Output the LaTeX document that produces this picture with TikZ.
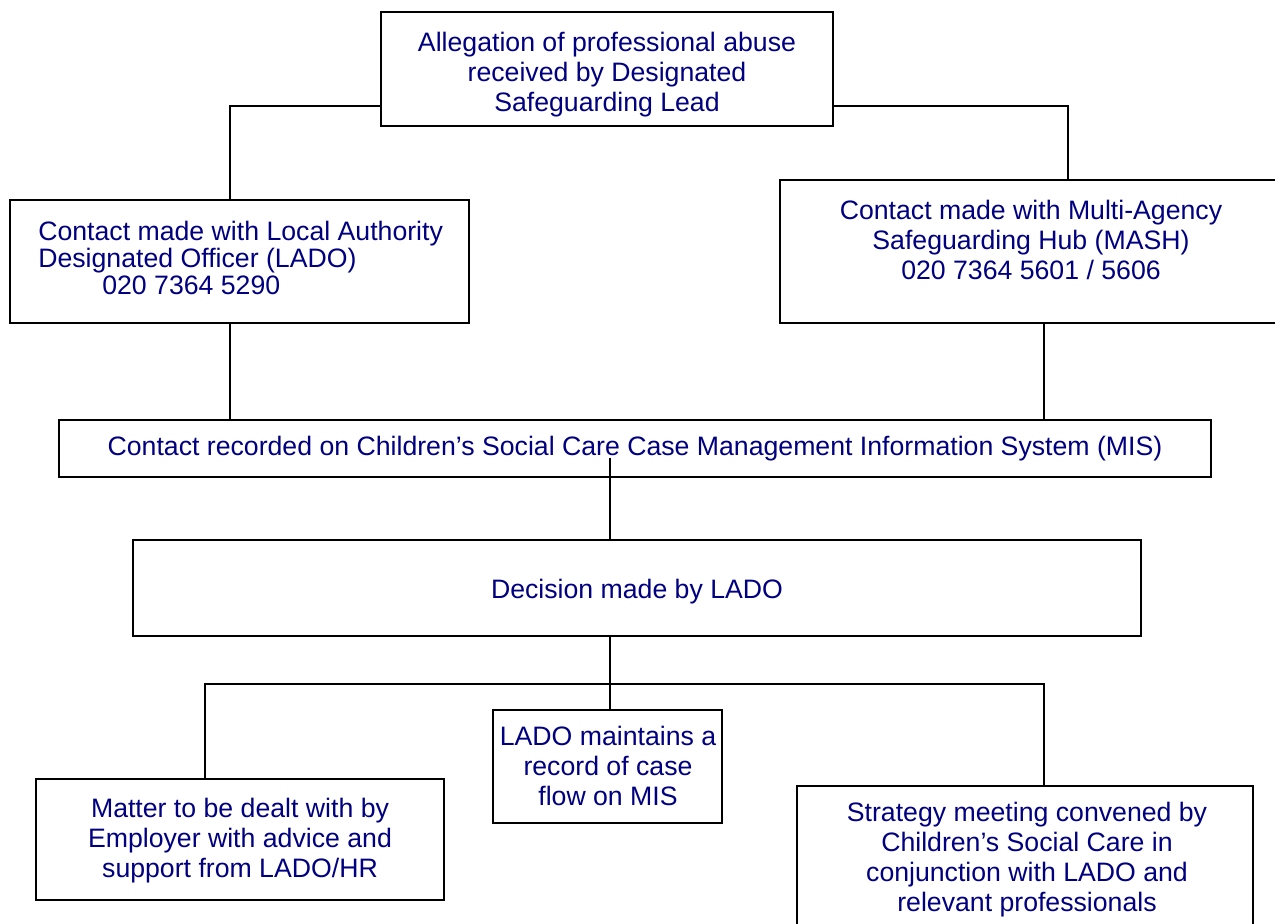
\documentclass[tikz,border=0pt]{standalone}
\usepackage{fontspec}
\setmainfont{Liberation Sans}
\definecolor{txtblue}{RGB}{0,0,128}
\tikzset{
  boxst/.style={draw=black, line width=1.2pt, rectangle, inner sep=0pt},
  txt/.style={text=txtblue, font=\fontsize{16pt}{18pt}\selectfont, align=center, inner sep=0pt},
  conn/.style={draw=black, line width=1.2pt}
}
\begin{document}
\begin{tikzpicture}[x=0.6pt, y=-0.6pt]
\clip (0,0) rectangle (1275,924);
\fill[white] (0,0) rectangle (1275,924);
% boxes
\node[boxst, minimum width=452*0.6pt, minimum height=114*0.6pt] (top) at (607,69) {};
\node[boxst, minimum width=459*0.6pt, minimum height=123*0.6pt] (lado) at (239.5,261.5) {};
\node[boxst, minimum width=505*0.6pt, minimum height=143*0.6pt] (mash) at (1032.5,251.5) {};
\node[boxst, minimum width=1152*0.6pt, minimum height=57*0.6pt] (mis) at (635,448.5) {};
\node[boxst, minimum width=1008*0.6pt, minimum height=96*0.6pt] (dec) at (637,588) {};
\node[boxst, minimum width=408*0.6pt, minimum height=121*0.6pt] (bl) at (240,839.5) {};
\node[boxst, minimum width=229*0.6pt, minimum height=113*0.6pt] (bm) at (607.5,766.5) {};
\node[boxst, minimum width=456*0.6pt, minimum height=154*0.6pt] (br) at (1025,863) {};
% texts
\node[txt] (toptext) at (607,75) {Allegation of professional abuse\\received by Designated\\Safeguarding Lead};
\node[txt, align=left, anchor=west, font=\fontsize{16pt}{16.2pt}\selectfont] (ladotext) at (38,258) {Contact made with Local Authority\\Designated Officer (LADO)\\\hspace*{38.4pt}020 7364 5290};
\node[txt] (mashtext) at (1031,240) {Contact made with Multi-Agency\\Safeguarding Hub (MASH)\\020 7364 5601 / 5606};
\node[txt] (mistext) at (635,449) {Contact recorded on Children’s Social Care Case Management Information System (MIS)};
\node[txt] (dectext) at (637,592) {Decision made by LADO};
\node[txt] (bltext) at (240,841) {Matter to be dealt with by\\Employer with advice and\\support from LADO/HR};
\node[txt] (bmtext) at (608,766) {LADO maintains a\\record of case\\flow on MIS};
\node[txt] (brtext) at (1027,860) {Strategy meeting convened by\\Children’s Social Care in\\conjunction with LADO and\\relevant professionals};
% junction coordinates
\coordinate (j1) at (230,106);
\coordinate (j2) at (1068,106);
\coordinate (j4) at (1044,323);
\coordinate (j5) at (610,458);
\coordinate (j6) at (610,684);
\coordinate (jl) at (205,684);
\coordinate (jr) at (1044,684);
% connectors
\draw[conn] (top.west |- j1) -- (j1) -- (j1 |- lado.north);
\draw[conn] (top.east |- j2) -- (j2) -- (j2 |- mash.north);
\draw[conn] (j1 |- lado.south) -- (j1 |- mis.north);
\draw[conn] (j4 |- mash.south) -- (j4 |- mis.north);
\draw[conn] (j5) -- (j5 |- dec.north);
\draw[conn] (j6 |- dec.south) -- (j6);
\draw[conn] (jl |- bl.north) -- (jl) -- (jr) -- (jr |- br.north);
\draw[conn] (j6) -- (j6 |- bm.north);
\end{tikzpicture}
\end{document}
